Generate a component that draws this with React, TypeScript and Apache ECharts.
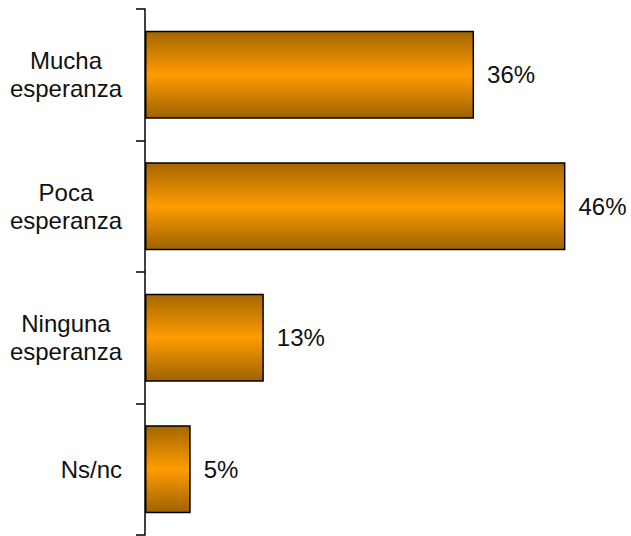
import React, { useEffect, useRef } from "react";
import * as echarts from "echarts";

const categories = ["Mucha\nesperanza", "Poca\nesperanza", "Ninguna\nesperanza", "Ns/nc"];
const values = [36, 46, 13, 5];

export default function App() {
  const ref = useRef<HTMLDivElement>(null);
  useEffect(() => {
    if (!ref.current) return;
    const chart = echarts.init(ref.current, null, { renderer: "svg" });
    chart.setOption({
      animation: false,
      backgroundColor: "#ffffff",
      grid: { left: 145, top: 9, width: 457, height: 526, containLabel: false },
      xAxis: {
        type: "value",
        min: 0,
        max: 50,
        show: false,
      },
      yAxis: {
        type: "category",
        inverse: true,
        data: categories,
        axisLine: { show: true, lineStyle: { color: "#000", width: 1.5 } },
        axisTick: { show: true, length: 9, lineStyle: { color: "#000", width: 1.5 } },
        axisLabel: {
          margin: 23,
          color: "#111",
          fontFamily: "Liberation Sans, Arial, sans-serif",
          fontSize: 24,
          lineHeight: 28,
          formatter: (v: string) =>
            v.split("\n").map((s) => `{c|${s}}`).join("\n"),
          rich: {
            c: {
              align: "center",
              fontFamily: "Liberation Sans, Arial, sans-serif",
              fontSize: 24,
              lineHeight: 28,
              color: "#111",
            },
          },
        },
      },
      series: [
        {
          type: "bar",
          data: values,
          barWidth: "67%",
          itemStyle: {
            color: new echarts.graphic.LinearGradient(0, 0, 0, 1, [
              { offset: 0, color: "#a46600" },
              { offset: 0.5, color: "#ff9c00" },
              { offset: 1, color: "#9e6200" },
            ]),
            borderColor: "#000",
            borderWidth: 1.5,
          },
          label: {
            show: true,
            position: "right",
            distance: 13,
            formatter: "{c}%",
            color: "#111",
            fontFamily: "Liberation Sans, Arial, sans-serif",
            fontSize: 24,
          },
        },
      ],
    });
    return () => chart.dispose();
  }, []);
  return <div ref={ref} style={{ width: 631, height: 536, position: "absolute", left: 0, top: 0 }} />;
}
